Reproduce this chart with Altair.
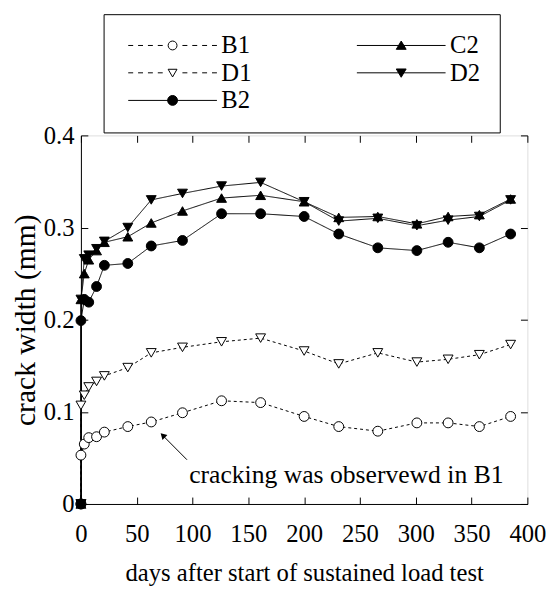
import altair as alt
import pandas as pd

# ---------------- data ----------------
days = [0, 0, 3, 7, 14, 21, 42, 63, 91, 126, 161, 200, 231, 266, 301, 329, 357, 385]

B1 = [0, 0.053, 0.065, 0.072, 0.073, 0.078, 0.084, 0.089, 0.099, 0.112, 0.110, 0.095, 0.084, 0.079, 0.088, 0.088, 0.084, 0.095]
D1 = [0, 0.107, 0.118, 0.127, 0.133, 0.139, 0.148, 0.164, 0.170, 0.176, 0.180, 0.166, 0.152, 0.164, 0.154, 0.157, 0.162, 0.173]
B2 = [0, 0.199, 0.222, 0.219, 0.236, 0.259, 0.261, 0.280, 0.286, 0.315, 0.315, 0.312, 0.293, 0.278, 0.275, 0.284, 0.278, 0.293]
C2 = [0, 0.222, 0.250, 0.265, 0.275, 0.284, 0.290, 0.305, 0.318, 0.332, 0.335, 0.328, 0.311, 0.312, 0.304, 0.312, 0.314, 0.331]
D2 = [0, 0.222, 0.266, 0.270, 0.277, 0.285, 0.300, 0.330, 0.337, 0.345, 0.349, 0.328, 0.307, 0.310, 0.302, 0.308, 0.312, 0.330]

series_order = ["B1", "D1", "B2", "C2", "D2"]      # legend order (column-major, 2 columns)
draw_order = ["B1", "D1", "B2", "C2", "D2"]

x_ticks = [0, 50, 100, 150, 200, 250, 300, 350, 400]
y_ticks = [0, 0.1, 0.2, 0.3, 0.4]

note_text = ["cracking was observewd in B1"]
note_day = [97]
note_width = [0.031]
arrow_day = [95, 72]
arrow_width = [0.048, 0.076]
head_day = [74]
head_width = [0.0737]

# ---------------- tables ----------------
series_values = {"B1": B1, "D1": D1, "B2": B2, "C2": C2, "D2": D2}
rows = []
for s in draw_order:
    for i, (d, v) in enumerate(zip(days, series_values[s])):
        rows.append({"series": s, "day": d, "width": v, "idx": i})
df = pd.DataFrame(rows)

arrow_df = pd.DataFrame({"day": arrow_day, "width": arrow_width})
head_df = pd.DataFrame({"day": head_day, "width": head_width})
note_df = pd.DataFrame({"day": note_day, "width": note_width, "text": note_text})

# ---------------- styling ----------------
W, H = 453, 374
FONT = "Liberation Serif, 'Times New Roman', 'DejaVu Serif', serif"
FS = 25

x_scale = alt.Scale(domain=[0, 400], nice=False, zero=False)
y_scale = alt.Scale(domain=[0, 0.4], nice=False)


def fmt(v):
    return f"{v:.3f}".rstrip("0").rstrip(".")


def dashed(marker):
    segs = []
    for a, b in [(-7.5, -6.667), (-5.833, -5.0), (-4.167, -3.333), (-2.5, -1.667),
                 (1.667, 2.5), (3.333, 4.167), (5.0, 5.833), (6.667, 7.5)]:
        segs.append(f"M{fmt(a)},0L{fmt(b)},0")
    return "".join(segs) + marker


def solid(marker):
    return "M-7.5,0L7.5,0" + marker


circle = "M-0.833,0A0.833,0.833,0,1,1,0.833,0A0.833,0.833,0,1,1,-0.833,0Z"
tri_up = "M0,-0.75L0.833,0.65L-0.833,0.65Z"
tri_down = "M0,0.75L0.833,-0.65L-0.833,-0.65Z"
small_circle = "M-0.75,0A0.75,0.75,0,1,1,0.75,0A0.75,0.75,0,1,1,-0.75,0Z"
small_tri_down = "M0,0.7L0.75,-0.6L-0.75,-0.6Z"

# order follows series_order: B1, D1, B2, C2, D2
legend_paths = [dashed(small_circle), dashed(small_tri_down), solid(circle), solid(tri_up), solid(tri_down)]
fills = ["white", "white", "black", "black", "black"]
dashes = [[3, 3], [3, 3], [1, 0], [1, 0], [1, 0]]
shapes = ["circle", "triangle-down", "circle", "triangle-up", "triangle-down"]

legend = alt.Legend(
    orient="none", legendX=23, legendY=-123, columns=2, columnPadding=100,
    rowPadding=2, padding=19, strokeColor="black", fillColor="white",
    labelFont=FONT, labelFontSize=FS, labelColor="black", labelOffset=37,
    symbolOffset=38.5, symbolSize=144, symbolStrokeWidth=1, symbolStrokeColor="black",
    cornerRadius=0,
)

lines = alt.Chart(df).mark_line(color="black", strokeWidth=1).encode(
    x=alt.X("day:Q", scale=x_scale, axis=alt.Axis(
        orient="bottom", values=x_ticks, ticks=False, tickSize=0, labelPadding=18,
        labelFlush=False, labelFont=FONT, labelFontSize=FS, labelColor="black",
        title="days after start of sustained load test", titleFont=FONT, titleFontSize=FS,
        titleFontWeight="normal", titleColor="black", titlePadding=15,
        domainColor="black", grid=False)),
    y=alt.Y("width:Q", scale=y_scale, axis=alt.Axis(
        orient="left", values=y_ticks, format=".1~f", ticks=False, tickSize=0, labelPadding=7,
        labelFlush=False, labelFont=FONT, labelFontSize=FS, labelColor="black",
        title="crack width (mm)", titleFont=FONT, titleFontSize=30,
        titleFontWeight="normal", titleColor="black", titlePadding=3,
        domainColor="black", grid=False)),
    detail="series:N",
    strokeDash=alt.StrokeDash("series:N", scale=alt.Scale(domain=series_order, range=dashes),
                              legend=None),
    order="idx:Q",
)

points = alt.Chart(df).mark_point(filled=True, size=100, stroke="black", strokeWidth=1, opacity=1).encode(
    x=alt.X("day:Q", scale=x_scale, axis=alt.Axis(
        orient="top", offset=-H, values=x_ticks, labels=False, ticks=True, tickSize=7,
        tickColor="black", domain=False, grid=False, title=None)),
    y=alt.Y("width:Q", scale=y_scale, axis=alt.Axis(
        orient="right", offset=-W, values=y_ticks, labels=False, ticks=True, tickSize=7,
        tickColor="black", domain=False, grid=False, title=None)),
    shape=alt.Shape("series:N", scale=alt.Scale(domain=series_order, range=shapes), legend=None),
    fill=alt.Fill("series:N", scale=alt.Scale(domain=series_order, range=fills), legend=None),
)

arrow = alt.Chart(arrow_df).mark_line(color="black", strokeWidth=1).encode(
    x=alt.X("day:Q", scale=x_scale, axis=None),
    y=alt.Y("width:Q", scale=y_scale, axis=None),
)
head = alt.Chart(head_df).mark_point(shape="triangle", angle=315, size=50, filled=True,
                                     color="black", opacity=1).encode(
    x=alt.X("day:Q", scale=x_scale, axis=None),
    y=alt.Y("width:Q", scale=y_scale, axis=None),
)
note = alt.Chart(note_df).mark_text(align="left", baseline="middle", font=FONT, fontSize=26,
                                    color="black").encode(
    x=alt.X("day:Q", scale=x_scale, axis=None),
    y=alt.Y("width:Q", scale=y_scale, axis=None),
    text="text:N",
)

legend_layer = alt.Chart(df).transform_filter("false").mark_point(
    filled=True, size=144, strokeWidth=1, opacity=1).encode(
    x=alt.X("day:Q", scale=x_scale, axis=alt.Axis(
        orient="bottom", offset=-H, values=x_ticks, labels=False, ticks=True, tickSize=7,
        tickColor="black", domain=False, grid=False, title=None)),
    y=alt.Y("width:Q", scale=y_scale, axis=alt.Axis(
        orient="left", offset=-W, values=y_ticks, labels=False, ticks=True, tickSize=7,
        tickColor="black", domain=False, grid=False, title=None)),
    shape=alt.Shape("series:N", scale=alt.Scale(domain=series_order, range=legend_paths),
                    legend=legend, title=None),
    fill=alt.Fill("series:N", scale=alt.Scale(domain=series_order, range=fills),
                  legend=legend, title=None),
    stroke=alt.Stroke("series:N", scale=alt.Scale(domain=series_order, range=["black"] * 5),
                      legend=legend, title=None),
)

chart = alt.layer(lines, points, arrow, head, note, legend_layer).resolve_scale(
    shape="independent", fill="independent", stroke="independent", strokeDash="independent"
).resolve_axis(x="independent", y="independent").properties(
    width=W, height=H,
    autosize=alt.AutoSizeParams(type="none"),
    padding={"left": 74, "top": 125, "right": 25, "bottom": 82},
).configure_view(stroke="black", strokeWidth=1).configure(font=FONT)

chart.save("out.html", embed_options={"renderer": "svg", "actions": False})
